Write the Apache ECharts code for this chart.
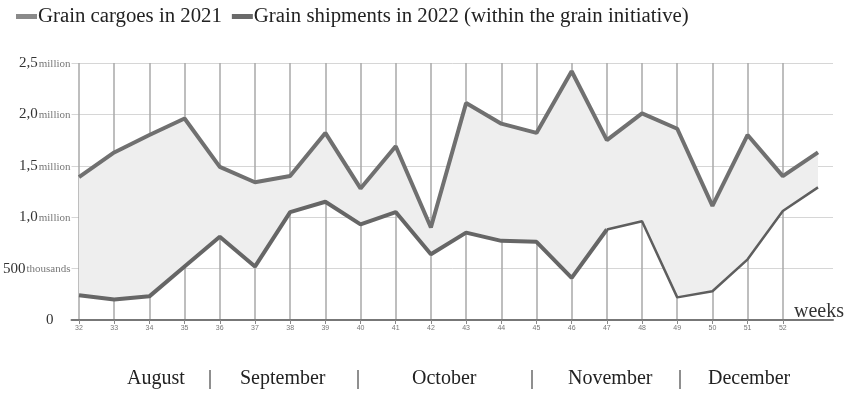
<!DOCTYPE html>
<html>
<head>
<meta charset="utf-8">
<script src="https://cdn.jsdelivr.net/npm/echarts@6/dist/echarts.min.js"></script>
<style>
  html, body { margin: 0; padding: 0; background: #fff; }
  #main { width: 853px; height: 395px; }
</style>
</head>
<body>
<div id="main"></div>
<script>
// weeks (last point has no label)
var weeks = ['32', '33', '34', '35', '36', '37', '38', '39', '40', '41', '42',
  '43', '44', '45', '46', '47', '48', '49', '50', '51', '52', ''];
// million tonnes
var cargoes2021 = [1.39, 1.63, 1.80, 1.96, 1.49, 1.34, 1.40, 1.82, 1.28, 1.69, 0.90,
  2.11, 1.91, 1.82, 2.42, 1.75, 2.01, 1.86, 1.11, 1.80, 1.40, 1.63];
var shipments2022 = [0.24, 0.20, 0.23, 0.52, 0.81, 0.52, 1.05, 1.15, 0.93, 1.05, 0.64,
  0.85, 0.77, 0.76, 0.41, 0.88, 0.96, 0.22, 0.28, 0.59, 1.06, 1.29];
var yTicks = [
  { v: 0, n: '0', u: '' },
  { v: 0.5, n: '500', u: 'thousands' },
  { v: 1, n: '1,0', u: 'million' },
  { v: 1.5, n: '1,5', u: 'million' },
  { v: 2, n: '2,0', u: 'million' },
  { v: 2.5, n: '2,5', u: 'million' }
];
var months = ['August', '|', 'September', '|', 'October', '|', 'November', '|', 'December'];
var monthX = [127, 208, 240, 356, 412, 530, 568, 678, 708];

var serif = '"Liberation Serif", "DejaVu Serif", serif';
var thinFrom = 15; // lower line becomes thinner from week 47

var diff = cargoes2021.map(function (v, i) { return +(v - shipments2022[i]).toFixed(3); });
var lowerThick = shipments2022.map(function (v, i) { return i <= thinFrom ? v : null; });
var lowerThin = shipments2022.map(function (v, i) { return i >= thinFrom ? v : null; });

var chart = echarts.init(document.getElementById('main'));

var titles = months.map(function (m, i) {
  return {
    text: m,
    left: monthX[i],
    top: 369,
    padding: 0,
    textStyle: { fontFamily: serif, fontSize: 20, fontWeight: 'normal', color: '#222' }
  };
});
titles.push({
  text: 'weeks',
  left: 794,
  top: 302,
  padding: 0,
  textStyle: { fontFamily: serif, fontSize: 20, fontWeight: 'normal', color: '#333' }
});

var option = {
  animation: false,
  backgroundColor: '#fff',
  title: titles,
  legend: {
    left: 11,
    top: 1,
    icon: 'rect',
    itemWidth: 21,
    itemHeight: 5,
    itemGap: 10,
    data: ['Grain cargoes in 2021', 'Grain shipments in 2022 (within the grain initiative)'],
    textStyle: { fontFamily: serif, fontSize: 20.8, color: '#222', padding: [0, 0, 0, -4] }
  },
  grid: [
    { left: 79, right: 35, top: 63, bottom: 75 },
    { left: 70, right: 20, top: 63, bottom: 75 }
  ],
  xAxis: [{
    gridIndex: 0,
    type: 'category',
    boundaryGap: false,
    data: weeks,
    axisLine: { show: false },
    axisTick: {
      show: true,
      length: 4,
      interval: function (idx) { return idx < weeks.length - 1; },
      lineStyle: { color: '#888' }
    },
    axisLabel: { fontSize: 7, color: '#777', margin: 5, interval: 0 },
    splitLine: {
      show: true,
      interval: function (idx) { return idx < weeks.length - 1; },
      lineStyle: { color: '#a8a8a8', width: 1.5 }
    }
  }, {
    gridIndex: 1,
    type: 'value',
    min: 0,
    max: 1,
    axisLine: { show: true, onZero: false, lineStyle: { color: '#777', width: 2 } },
    axisTick: { show: false },
    axisLabel: { show: false },
    splitLine: { show: false }
  }],
  yAxis: [{
    gridIndex: 0,
    type: 'value',
    min: 0,
    max: 2.5,
    interval: 0.5,
    axisLine: { show: false },
    axisTick: { show: false },
    axisLabel: { show: false },
    splitLine: { show: false }
  }, {
    gridIndex: 1,
    type: 'value',
    min: 0,
    max: 2.5,
    interval: 0.5,
    axisLine: { show: false },
    axisTick: { show: false },
    splitLine: { show: true, lineStyle: { color: '#d6d6d6', width: 1 } },
    axisLabel: {
      margin: 1,
      formatter: function (val) {
        var t = yTicks.find(function (d) { return Math.abs(d.v - val) < 1e-6; });
        if (!t) return '';
        if (!t.u) return '{n|' + t.n + '}{pad|}';
        return '{n|' + t.n + '}{u|' + t.u + '}';
      },
      rich: {
        n: { fontFamily: serif, fontSize: 15, color: '#333' },
        u: { fontFamily: serif, fontSize: 11, color: '#777', padding: [2, 0, 0, 1] },
        pad: { width: 17 }
      }
    }
  }],
  series: [{
    name: 'base',
    type: 'line',
    stack: 'band',
    data: shipments2022,
    symbol: 'none',
    lineStyle: { opacity: 0 },
    silent: true,
    z: 1
  }, {
    name: 'band',
    type: 'line',
    stack: 'band',
    data: diff,
    symbol: 'none',
    lineStyle: { opacity: 0 },
    areaStyle: { color: '#eeeeee', opacity: 1 },
    silent: true,
    z: 1
  }, {
    name: 'Grain cargoes in 2021',
    type: 'line',
    data: cargoes2021,
    symbol: 'none',
    color: '#8a8a8a',
    lineStyle: { color: '#707070', width: 4 },
    z: 3
  }, {
    name: 'Grain shipments in 2022 (within the grain initiative)',
    type: 'line',
    data: lowerThick,
    symbol: 'none',
    color: '#6a6a6a',
    lineStyle: { color: '#666', width: 4 },
    z: 3
  }, {
    name: 'Grain shipments in 2022 (within the grain initiative)',
    type: 'line',
    data: lowerThin,
    symbol: 'none',
    color: '#6a6a6a',
    lineStyle: { color: '#5e5e5e', width: 2.5 },
    z: 3
  }]
};

chart.setOption(option);
</script>
</body>
</html>
